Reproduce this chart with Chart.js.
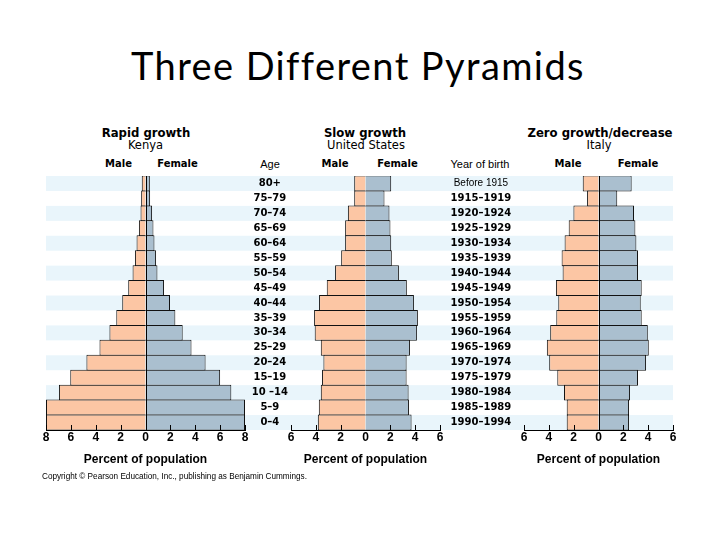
<!DOCTYPE html>
<html>
<head>
<meta charset="utf-8">
<script src="https://cdn.jsdelivr.net/npm/chart.js@4.4.1/dist/chart.umd.min.js"></script>
<style>
  html, body { margin:0; padding:0; background:#fff; }
  body { width:720px; height:540px; position:relative; overflow:hidden; }
  .c { position:absolute; width:200px; text-align:center; white-space:nowrap; line-height:1; color:#000; }
  .hb { font-family:"DejaVu Sans"; font-weight:bold; font-size:11.7px; }
  .hn { font-family:"DejaVu Sans"; font-size:11.5px; }
  .mf { font-family:"DejaVu Sans"; font-weight:bold; font-size:10px; }
  .ay { font-family:"Liberation Sans"; font-size:11px; }
  canvas { position:absolute; top:170px; }
</style>
</head>
<body>
<div class="c" style="left:-2px;width:720px;top:46px;font-family:Lato;font-size:38px;letter-spacing:1.4px;">Three Different Pyramids</div>

<div class="c hb" style="left:46px;top:127.5px;">Rapid growth</div>
<div class="c hn" style="left:45.5px;top:139.5px;">Kenya</div>
<div class="c mf" style="left:18.5px;top:159.2px;">Male</div>
<div class="c mf" style="left:77.5px;top:159.2px;">Female</div>

<div class="c hb" style="left:265px;top:127.5px;">Slow growth</div>
<div class="c hn" style="left:266px;top:139.5px;">United States</div>
<div class="c ay" style="left:170px;top:158.6px;">Age</div>
<div class="c mf" style="left:235px;top:159.2px;">Male</div>
<div class="c mf" style="left:297.5px;top:159.2px;">Female</div>
<div class="c ay" style="left:380px;top:158.6px;">Year of birth</div>

<div class="c hb" style="left:500px;top:127.5px;">Zero growth/decrease</div>
<div class="c hn" style="left:499px;top:139.5px;">Italy</div>
<div class="c mf" style="left:468px;top:159.2px;">Male</div>
<div class="c mf" style="left:538px;top:159.2px;">Female</div>

<canvas id="kenya" width="220" height="305" style="left:30px;"></canvas>
<canvas id="us" width="266" height="305" style="left:250px;"></canvas>
<canvas id="italy" width="174" height="305" style="left:516px;"></canvas>

<div style="position:absolute;left:42px;top:473px;font-family:'Liberation Sans';font-size:8.2px;line-height:1;white-space:nowrap;color:#000;">Copyright © Pearson Education, Inc., publishing as Benjamin Cummings.</div>

<script>
// ---- data ----
const ages = ['80+','75–79','70–74','65–69','60–64','55–59','50–54','45–49','40–44','35–39','30–34','25–29','20–24','15–19','10 –14','5–9','0–4'];
const birthYears = ['Before 1915','1915–1919','1920–1924','1925–1929','1930–1934','1935–1939','1940–1944','1945–1949','1950–1954','1955–1959','1960–1964','1965–1969','1970–1974','1975–1979','1980–1984','1985–1989','1990–1994'];

const kenyaMale   = [0.30,0.35,0.40,0.53,0.72,0.85,1.04,1.39,1.87,2.35,2.90,3.70,4.75,6.05,6.96,8.00,8.00];
const kenyaFemale = [0.35,0.37,0.53,0.64,0.72,0.85,0.96,1.49,1.97,2.40,2.99,3.70,4.83,6.00,6.90,8.00,8.00];

const usMale   = [0.91,0.91,1.42,1.64,1.64,1.96,2.45,3.12,3.74,4.14,4.09,3.60,3.39,3.50,3.60,3.76,3.84];
const usFemale = [2.07,1.53,1.93,2.01,2.07,2.12,2.69,3.33,3.90,4.22,4.14,3.58,3.31,3.31,3.47,3.50,3.71];

const italyMale   = [1.27,0.92,2.02,2.40,2.73,2.97,2.89,3.43,3.24,3.40,3.89,4.16,3.97,3.32,2.78,2.56,2.56];
const italyFemale = [2.67,1.51,2.86,2.97,3.05,3.18,3.18,3.48,3.40,3.48,3.97,4.05,3.83,3.18,2.54,2.46,2.46];

const kenyaTicksMax = 8;
const otherTicksMax = 6;

// ---- styles ----
const MALE = '#FCC6A4';
const FEMALE = '#AABFCF';
const STRIPE = '#E9F5FB';
const EDGE = '#111111';
const ROWS = ages.length;
const BP = (254 / ROWS + 1) / (254 / ROWS);
const TICKFONT = { family: 'Liberation Sans', weight: 'bold', size: 12 };
const AXISFONT = { family: 'Liberation Sans', weight: 'bold', size: 12 };
const AGEFONT = { family: 'DejaVu Sans', weight: 'bold', size: 10 };

function stripes(leftMode, rightMode) {
  return {
    id: 'stripes',
    beforeDraw(chart) {
      const { ctx, chartArea, scales } = chart;
      const y = scales.y;
      const x0 = leftMode === 'area' ? chartArea.left : 0;
      const x1 = rightMode === 'area' ? chartArea.right : chart.width;
      const h = (chartArea.bottom - chartArea.top) / ROWS;
      ctx.save();
      ctx.fillStyle = STRIPE;
      for (let i = 0; i < ROWS; i += 2) {
        const yc = y.getPixelForValue(i);
        ctx.fillRect(x0, yc - h / 2, x1 - x0, h);
      }
      ctx.restore();
    }
  };
}

function marks(centerLine) {
  return {
    id: 'marks',
    afterDatasetsDraw(chart) {
      const { ctx, chartArea, scales } = chart;
      const x = scales.x;
      ctx.save();
      ctx.strokeStyle = '#000';
      ctx.lineWidth = 1;
      ctx.beginPath();
      x.ticks.forEach(t => {
        if (t.value === 0) return;
        const px = Math.round(x.getPixelForValue(t.value)) + 0.5;
        ctx.moveTo(px, chartArea.bottom);
        ctx.lineTo(px, chartArea.bottom - 5);
      });
      if (centerLine) {
        const cx = Math.round(x.getPixelForValue(0)) + 0.5;
        ctx.moveTo(cx, chartArea.top);
        ctx.lineTo(cx, chartArea.bottom);
      }
      ctx.stroke();
      ctx.restore();
    }
  };
}

function makeChart(id, male, female, max, padding, yScales, plugins) {
  const ds = (data, color) => ({
    data, backgroundColor: color, borderColor: EDGE, borderWidth: 1,
    borderSkipped: 'start', barPercentage: BP, categoryPercentage: 1
  });
  return new Chart(document.getElementById(id), {
    type: 'bar',
    data: {
      labels: ages,
      datasets: [ds(male.map(v => -v), MALE), ds(female, FEMALE)]
    },
    options: {
      indexAxis: 'y',
      responsive: false,
      animation: false,
      events: [],
      layout: { padding },
      plugins: { legend: { display: false }, tooltip: { enabled: false } },
      scales: Object.assign({
        x: {
          type: 'linear', stacked: true, min: -max, max: max,
          ticks: { stepSize: 2, callback: v => Math.abs(v), font: TICKFONT, color: '#000', padding: 0, maxRotation: 0, autoSkip: false },
          grid: { display: false, drawTicks: false },
          border: { display: true, color: '#000', width: 1 },
          title: { display: true, text: 'Percent of population', font: AXISFONT, color: '#000', padding: { top: 0, bottom: 8 } },
          afterFit: s => { s.height = 45; }
        }
      }, yScales)
    },
    plugins
  });
}

// Kenya
makeChart('kenya', kenyaMale, kenyaFemale, kenyaTicksMax,
  { left: 16, right: 5, top: 6, bottom: 0 },
  { y: { type: 'category', stacked: true, display: false, offset: true } },
  [stripes('area', 'canvas'), marks(true)]);

// United States
makeChart('us', usMale, usFemale, otherTicksMax,
  { left: 0, right: 0, top: 6, bottom: 0 },
  {
    y: {
      type: 'category', stacked: true, position: 'left', offset: true,
      ticks: { font: AGEFONT, color: '#000', crossAlign: 'center', padding: 0, autoSkip: false },
      grid: { display: false, drawTicks: true, tickLength: 3 }, border: { display: false },
      afterFit: s => { s.width = 41; }
    },
    y2: {
      type: 'category', labels: birthYears, position: 'right', offset: true,
      ticks: {
        font: ctx => ctx.index === 0 ? { family: 'Liberation Sans', weight: 'normal', size: 10 } : AGEFONT,
        color: '#000', crossAlign: 'center', padding: 0, autoSkip: false
      },
      grid: { display: false, drawTicks: true, tickLength: 10.6 }, border: { display: false },
      afterFit: s => { s.width = 76; }
    }
  },
  [stripes('canvas', 'canvas'), marks(false)]);

// Italy
makeChart('italy', italyMale, italyFemale, otherTicksMax,
  { left: 8, right: 17, top: 6, bottom: 0 },
  { y: { type: 'category', stacked: true, display: false, offset: true } },
  [stripes('canvas', 'area'), marks(true)]);
</script>
</body>
</html>
